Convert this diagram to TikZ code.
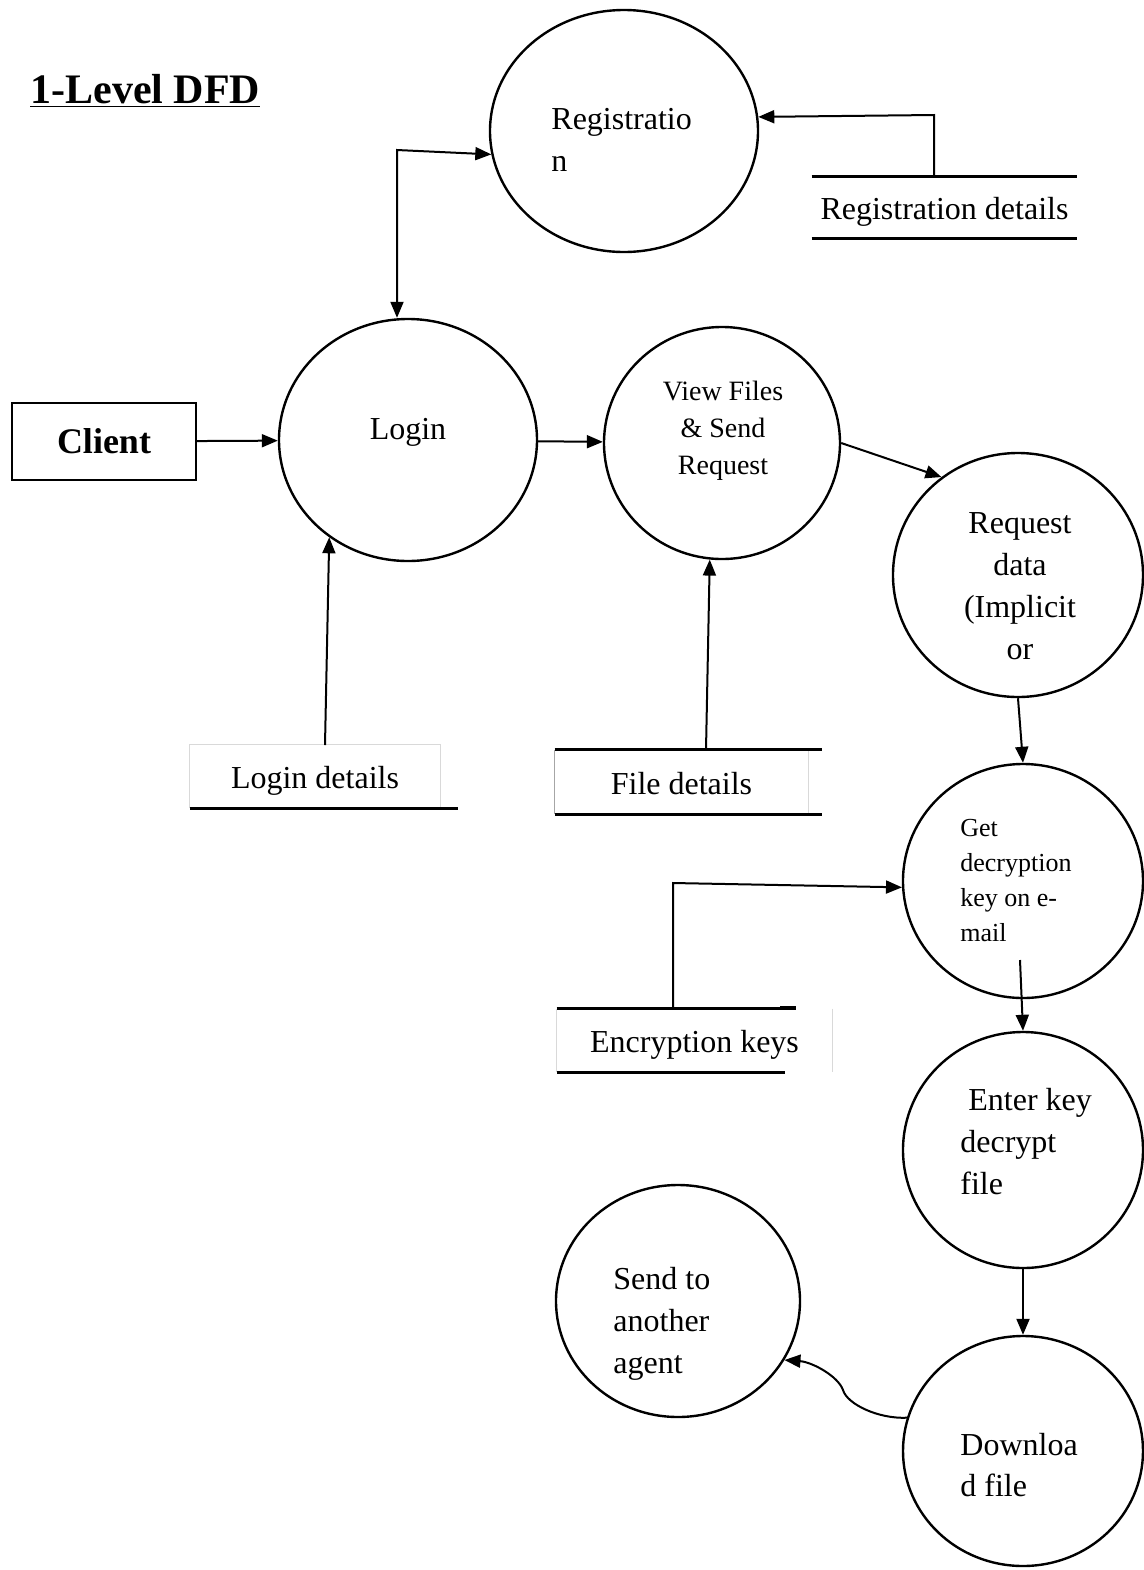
\documentclass[tikz,border=0pt]{standalone}
\usepackage{fontspec}
\setmainfont{Liberation Serif}
\usetikzlibrary{shapes.geometric,arrows.meta}
\begin{document}
\begin{tikzpicture}[x=0.5pt,y=-0.5pt,
  proc/.style={draw, ellipse, line width=1.2pt, inner sep=0pt},
  lbl/.style={inner sep=0pt, font=\fontsize{16}{21}\selectfont},
  storebox/.style={inner sep=0pt, font=\fontsize{16}{21}\selectfont},
  storeline/.style={line width=1.3pt},
  faint/.style={line width=0.4pt, gray!30},
  tip/.tip={Triangle[length=8pt,width=6.5pt]},
  arr/.style={line width=1pt, -tip},
  biarr/.style={line width=1pt, tip-tip}
]
\fill[white] (0,0) rectangle (1144,1570);
\useasboundingbox (0,0) rectangle (1144,1570);

% title
\node[anchor=base west, inner sep=0pt, font=\bfseries\fontsize{21}{25}\selectfont] (title) at (30,103) {\underline{1-Level DFD}};

% external entity
\node[draw, line width=1.2pt, minimum width=92pt, minimum height=38.5pt, inner sep=0pt,
      font=\bfseries\fontsize{18}{22}\selectfont] (client) at (104,441.5) {Client};

% processes
\node[proc, minimum width=134pt, minimum height=121pt] (reg)   at (624,131)  {};
\node[proc, minimum width=129pt, minimum height=121pt] (login) at (408,440)  {};
\node[proc, minimum width=118pt, minimum height=116pt] (view)  at (722,443)  {};
\node[proc, minimum width=125pt, minimum height=122pt] (req)   at (1018,575) {};
\node[proc, minimum width=120pt, minimum height=117pt] (getk)  at (1023,881) {};
\node[proc, minimum width=120pt, minimum height=118pt] (enter) at (1023,1150) {};
\node[proc, minimum width=120pt, minimum height=115pt] (down)  at (1023,1451) {};
\node[proc, minimum width=122pt, minimum height=116pt] (send)  at (678,1301) {};

% process labels
\node[lbl, align=left, anchor=west] (reg-t) at (551,140) {Registratio\\n};
\node[lbl] (login-t) at (408,432) {Login};
\node[lbl, font=\fontsize{14}{18.5}\selectfont, align=center] (view-t) at (723,431) {View Files\\\& Send\\Request};
\node[lbl, align=center] (req-t) at (1020,586) {Request\\data\\(Implicit\\or};
\node[lbl, font=\fontsize{13}{17.5}\selectfont, align=left, anchor=west] (getk-t) at (960,881) {Get\\decryption\\key on e-\\mail};
\node[lbl, align=left, anchor=west] (enter-t) at (960,1142) {\hspace*{0.25em}Enter key\\decrypt\\file};
\node[lbl, font=\fontsize{16}{20.5}\selectfont, align=left, anchor=west] (down-t) at (960,1465) {Downloa\\d file};
\node[lbl, align=left, anchor=west] (send-t) at (613,1324) {Send to\\another\\agent};

% data stores: the text box sits a little low between its two rules
\node[storebox, minimum width=132.5pt, minimum height=30.5pt] (regd) at (944.5,211.5) {Registration details};
\coordinate (regd-nw) at ([yshift=2pt]regd.north west);
\coordinate (regd-ne) at ([yshift=2pt]regd.north east);
\draw[storeline] (regd-nw) -- (regd-ne) ([yshift=2pt]regd.south west) -- ([yshift=2pt]regd.south east);

\node[storebox, minimum width=125pt, minimum height=31.5pt] (logd) at (315,780.5) {Login details};
\coordinate (logd-sw) at ([yshift=2pt]logd.south west);
\draw[faint] (logd-sw) |- ([yshift=2pt]logd.north east) -- ([yshift=2pt]logd.south east);
\draw[storeline] (logd-sw) -- ++(268,0);

\node[storebox, minimum width=126.5pt, minimum height=32pt] (fd) at (681.5,784) {File details};
\coordinate (fd-nw) at ([yshift=1pt]fd.north west);
\coordinate (fd-sw) at ([yshift=1pt]fd.south west);
\draw[faint] ([yshift=1pt]fd.north east) -- ([yshift=1pt]fd.south east);
\draw[line width=0.5pt, gray!70] (fd-nw) -- (fd-sw);
\draw[storeline] (fd-nw) -- ++(267,0) (fd-sw) -- ++(267,0);

\node[storebox, minimum width=137.5pt, minimum height=31.5pt] (ek) at (694.5,1044.5) {Encryption keys};
\coordinate (ek-nw) at ([yshift=2pt]ek.north west);
\coordinate (ek-sw) at ([yshift=2pt]ek.south west);
\draw[faint] (ek-nw) -- (ek-sw) ([yshift=2pt]ek.north east) -- ([yshift=2pt]ek.south east);
\draw[storeline] (ek-nw) -- ++(228,0) (ek-sw) -- ++(228,0);
\draw[line width=1.8pt] (780,1008) -- (796,1008);

% data flows
\coordinate (c1) at (397,150);
\draw[biarr] (reg.190) -- (c1) -- (c1 |- login.north);

\coordinate (c2) at (934,115);
\draw[arr] (c2 |- regd-nw) -- (c2) -- (reg.6);

\draw[arr] (client) -- (login);
\draw[arr] (login) -- (view);
\draw[arr] (view.east) -- (req.128);

\coordinate (ldtap) at (325,745);
\draw[arr] (ldtap) -- (login.231);

\coordinate (fdtap) at (706,750);
\draw[arr] (fdtap) -- (view.264);

\draw[arr] (req.south) -- (getk.north);

\coordinate (c3) at (673,883);
\draw[arr] (c3 |- ek-nw) -- (c3) -- (getk.183);

\coordinate (c4) at (1020,960);
\draw[arr] (c4) -- (enter.north);
\draw[arr] (enter.south) -- (down.north);

\coordinate (c6) at (843,1390);
\draw[arr] (down.164) .. controls (878,1419) and (847,1404) .. (c6)
                      .. controls (838,1376) and (812,1362) .. (send.331);
\end{tikzpicture}
\end{document}
